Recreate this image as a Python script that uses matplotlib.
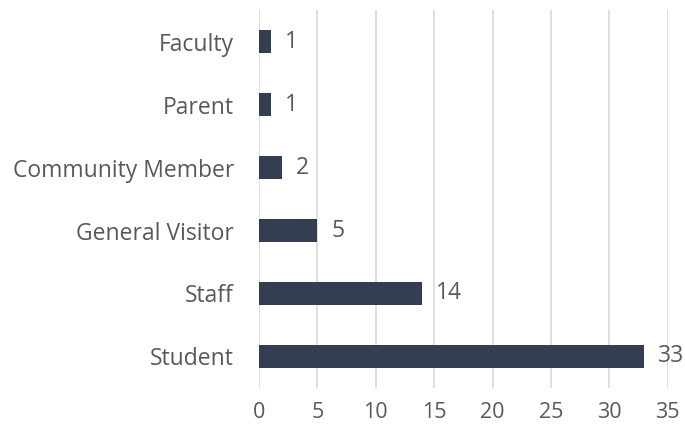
import matplotlib
matplotlib.use("Agg")
import matplotlib.pyplot as plt

categories = ["Student", "Staff", "General Visitor", "Community Member", "Parent", "Faculty"]
values = [33, 14, 5, 2, 1, 1]
xticks = [0, 5, 10, 15, 20, 25, 30, 35]

plt.rcParams['font.family'] = ['Open Sans', 'DejaVu Sans']
text_color = '#595959'
bar_color = '#333F50'
fs = 16.5

fig = plt.figure(figsize=(6.85, 4.3), dpi=100)
ax = fig.add_axes([0.3781, 0.0977, 0.5967, 0.879])

y = range(len(categories))
ax.barh(y, values, height=0.35, color=bar_color, zorder=3)
for yi, v in zip(y, values):
    ax.annotate(str(v), (v, yi), xytext=(10, 0), textcoords='offset points',
                ha='left', va='center', fontsize=fs, color=text_color)

ax.set_xlim(0, 35)
ax.set_ylim(-0.5, len(categories) - 0.5)
ax.set_xticks(xticks)
ax.set_yticks(list(y))
ax.set_yticklabels(categories)
ax.tick_params(axis='both', length=0, labelsize=fs, colors=text_color)
ax.tick_params(axis='x', pad=10, labelsize=15.5)
ax.tick_params(axis='y', pad=18)
ax.grid(axis='x', color='#D9D9D9', linewidth=1.2, zorder=0)
for s in ax.spines.values():
    s.set_visible(False)

fig.savefig("out.png", dpi=100)
